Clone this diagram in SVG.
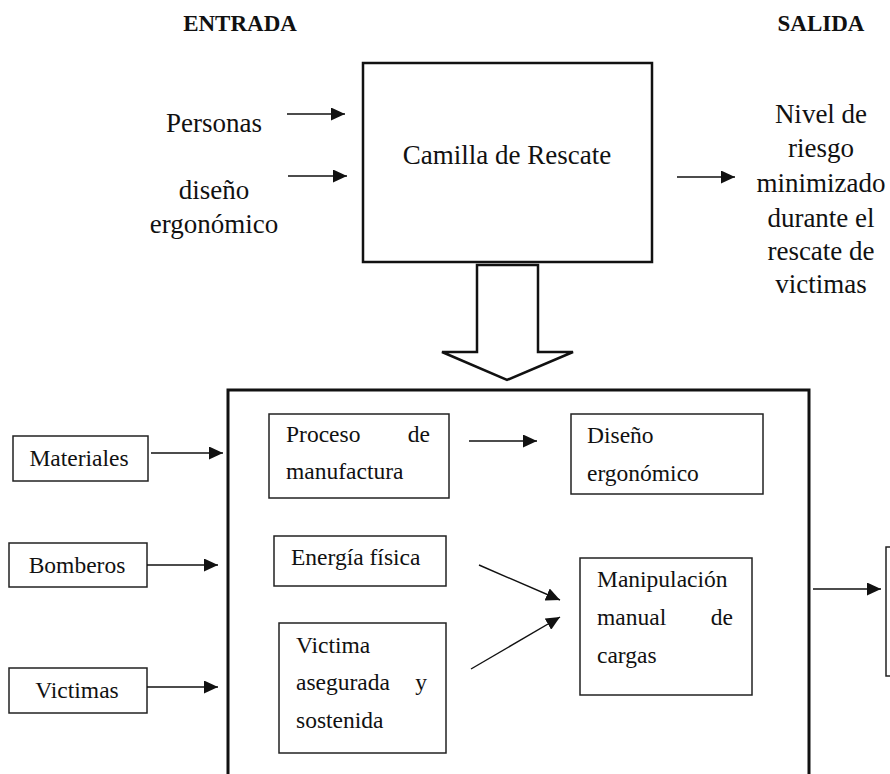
<svg xmlns="http://www.w3.org/2000/svg" width="890" height="774" viewBox="0 0 890 774">
<style>
text{font-family:"Liberation Serif","Times New Roman",serif;fill:#111}
.h{font-weight:bold;font-size:23px;text-anchor:middle}
.big{font-size:27px}
.mid{font-size:23.5px}
.c{text-anchor:middle}
.e{text-anchor:end}
.box{fill:none;stroke:#222;stroke-width:1.5}
.ln{fill:none;stroke:#111;stroke-width:1.4}
</style>
<defs>
<marker id="ah" markerUnits="userSpaceOnUse" markerWidth="15" markerHeight="13" refX="14" refY="6.5" orient="auto">
<path d="M0,0 L14,6.5 L0,13 z" fill="#111"/>
</marker>
</defs>
<rect width="890" height="774" fill="#fff"/>
<g id="labels">
<text class="h" x="240" y="31">ENTRADA</text>
<text class="h" x="821" y="31">SALIDA</text>
</g>
<g id="in-personas"><text class="big c" x="214" y="132">Personas</text></g>
<g id="in-diseno"><text class="big c" x="214" y="199">diseño<tspan x="214" y="233">ergonómico</tspan></text></g>
<g id="camilla">
<rect x="363" y="63" width="289" height="199" fill="none" stroke="#111" stroke-width="2.5"/>
<text class="big c" x="507" y="164">Camilla de Rescate</text>
</g>
<g id="salida-text">
<text class="big c" x="821" y="123">Nivel de<tspan x="821" y="157">riesgo</tspan><tspan x="821" y="192">minimizado</tspan><tspan x="821" y="227">durante el</tspan><tspan x="821" y="260">rescate de</tspan><tspan x="821" y="293">victimas</tspan></text>
</g>
<g id="big-arrow">
<path d="M477,265 L538,265 L538,352 L573,352 L507,380 L442,352 L477,352 Z" fill="#fff" stroke="#111" stroke-width="2.5" stroke-linejoin="miter"/>
</g>
<g id="sistema">
<path d="M228,780 L228,390 L809,390 L809,780" fill="none" stroke="#111" stroke-width="3"/>
</g>
<g id="materiales"><rect class="box" x="13" y="436" width="135" height="45"/><text class="mid c" x="79" y="466">Materiales</text></g>
<g id="bomberos"><rect class="box" x="9" y="543" width="138" height="44"/><text class="mid c" x="77" y="573">Bomberos</text></g>
<g id="victimas"><rect class="box" x="9" y="668" width="138" height="45"/><text class="mid c" x="77" y="698">Victimas</text></g>
<g id="proceso"><rect class="box" x="269" y="414" width="180" height="84"/><text class="mid" x="286" y="442">Proceso</text><text class="mid e" x="430" y="442">de</text><text class="mid" x="286" y="479">manufactura</text></g>
<g id="diseno-erg"><rect class="box" x="571" y="414" width="192" height="80"/><text class="mid" x="587" y="443">Diseño</text><text class="mid" x="587" y="481">ergonómico</text></g>
<g id="energia"><rect class="box" x="274" y="536" width="172" height="50"/><text class="mid" x="291" y="565">Energía física</text></g>
<g id="victima-asegurada"><rect class="box" x="279" y="623" width="167" height="130"/><text class="mid" x="296" y="653">Victima</text><text class="mid" x="296" y="690">asegurada</text><text class="mid e" x="427" y="690">y</text><text class="mid" x="296" y="728">sostenida</text></g>
<g id="manipulacion"><rect class="box" x="580" y="558" width="172" height="137"/><text class="mid" x="597" y="587">Manipulación</text><text class="mid" x="597" y="625">manual</text><text class="mid e" x="733" y="625">de</text><text class="mid" x="597" y="663">cargas</text></g>
<g id="salida-box"><rect class="box" x="886" y="547" width="20" height="129"/></g>
<g id="connectors">
<line class="ln" x1="287" y1="114" x2="345" y2="114" marker-end="url(#ah)"/>
<line class="ln" x1="288" y1="176" x2="347" y2="176" marker-end="url(#ah)"/>
<line class="ln" x1="677" y1="177" x2="735" y2="177" marker-end="url(#ah)"/>
<line class="ln" x1="151" y1="453" x2="223" y2="453" marker-end="url(#ah)"/>
<line class="ln" x1="147" y1="565" x2="218" y2="565" marker-end="url(#ah)"/>
<line class="ln" x1="147" y1="687" x2="218" y2="687" marker-end="url(#ah)"/>
<line class="ln" x1="469" y1="441" x2="537" y2="441" marker-end="url(#ah)"/>
<line class="ln" x1="479" y1="565" x2="560" y2="600" marker-end="url(#ah)"/>
<line class="ln" x1="471" y1="669" x2="560" y2="617" marker-end="url(#ah)"/>
<line class="ln" x1="813" y1="589" x2="881" y2="589" marker-end="url(#ah)"/>
</g>
</svg>
